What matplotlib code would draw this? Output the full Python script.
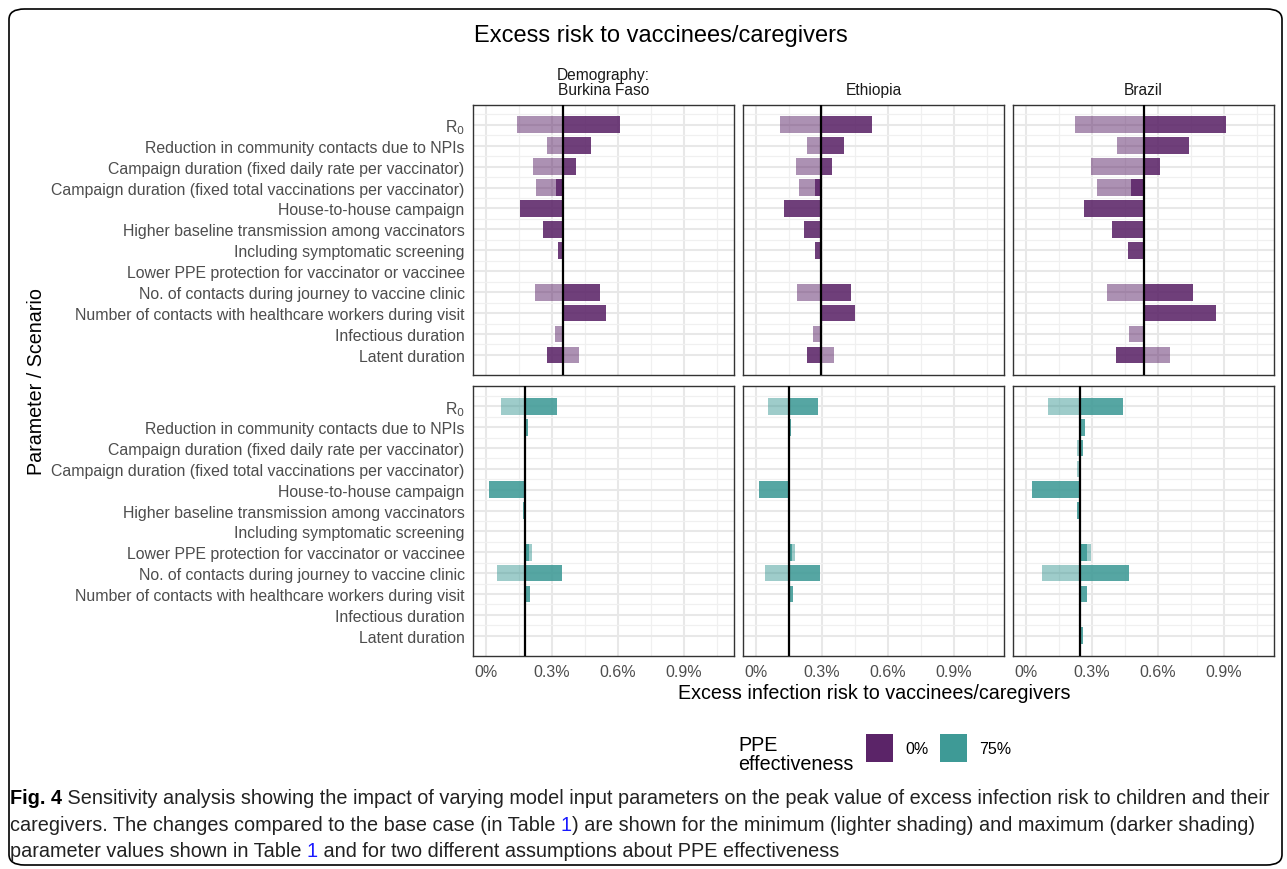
import matplotlib
matplotlib.use("Agg")
import matplotlib.pyplot as plt
from matplotlib.patches import FancyBboxPatch, Rectangle
import numpy as np

nan = np.nan

# %%
rows = ["R$_0$",
        "Reduction in community contacts due to NPIs",
        "Campaign duration (fixed daily rate per vaccinator)",
        "Campaign duration (fixed total vaccinations per vaccinator)",
        "House-to-house campaign",
        "Higher baseline transmission among vaccinators",
        "Including symptomatic screening",
        "Lower PPE protection for vaccinator or vaccinee",
        "No. of contacts during journey to vaccine clinic",
        "Number of contacts with healthcare workers during visit",
        "Infectious duration",
        "Latent duration"]
countries = ["Demography:\nBurkina Faso", "Ethiopia", "Brazil"]
ppe_labels = ["0%", "75%"]
xticks = [0, 0.3, 0.6, 0.9]
xticklabels = ["0%", "0.3%", "0.6%", "0.9%"]

# base case (percent), rows = PPE 0% / 75%, cols = country
base = [[0.353, 0.295, 0.539],
        [0.180, 0.153, 0.248]]

# minimum parameter value (lighter shading)
low_bf0 = [0.141, 0.280, 0.214, 0.229, nan, nan, nan, nan, 0.223, nan, 0.315, 0.423]
low_et0 = [0.111, 0.235, 0.182, 0.195, nan, nan, nan, nan, 0.188, nan, 0.262, 0.355]
low_br0 = [0.224, 0.414, 0.297, 0.326, nan, nan, nan, nan, 0.370, nan, 0.468, 0.656]
low_bf75 = [0.070, nan, 0.174, nan, nan, nan, nan, 0.209, 0.050, nan, nan, nan]
low_et75 = [0.058, nan, nan, nan, nan, nan, nan, 0.177, 0.042, nan, nan, nan]
low_br75 = [0.100, 0.242, 0.233, 0.235, nan, nan, 0.244, 0.297, 0.076, nan, nan, 0.242]

# maximum parameter value / scenario (darker shading)
high_bf0 = [0.611, 0.479, 0.408, 0.320, 0.155, 0.259, 0.327, nan, 0.517, 0.545, nan, 0.277]
high_et0 = [0.527, 0.403, 0.348, 0.271, 0.127, 0.218, 0.271, nan, 0.435, 0.453, nan, 0.233]
high_br0 = [0.909, 0.742, 0.611, 0.479, 0.264, 0.391, 0.464, nan, 0.759, 0.862, nan, 0.411]
high_bf75 = [0.323, 0.191, 0.184, 0.178, 0.015, 0.168, nan, 0.198, 0.345, 0.202, nan, nan]
high_et75 = [0.282, 0.162, 0.151, nan, 0.014, 0.145, nan, 0.165, 0.292, 0.170, nan, nan]
high_br75 = [0.442, 0.268, 0.259, nan, 0.027, 0.232, nan, 0.277, 0.467, 0.280, nan, 0.259]

lows = [[low_bf0, low_et0, low_br0], [low_bf75, low_et75, low_br75]]
highs = [[high_bf0, high_et0, high_br0], [high_bf75, high_et75, high_br75]]
colors = ["#5B2468", "#3E9A96"]

# %%
W, H = 1287, 870
fig = plt.figure(figsize=(W / 100, H / 100), dpi=100)
plt.rcParams['font.family'] = ['Liberation Sans', 'DejaVu Sans']

def px_axes(x0, y0, x1, y1):
    return fig.add_axes([x0 / W, 1 - y1 / H, (x1 - x0) / W, (y1 - y0) / H])

col_x = [473, 743, 1013]
panel_w = 261
row_y = [(105.7, 376.0), (387.3, 656.7)]
n = len(rows)
ypos = np.arange(n)[::-1]

for r in range(2):
    for c in range(3):
        ax = px_axes(col_x[c], row_y[r][0], col_x[c] + panel_w, row_y[r][1])
        ax.set_xlim(-0.057, 1.127)
        ax.set_ylim(-0.96, n - 1 + 0.96)
        # grid
        for v in [0.15, 0.45, 0.75, 1.05]:
            ax.axvline(v, color="#f0f0f0", lw=0.9, zorder=0)
        for v in xticks:
            ax.axvline(v, color="#e8e8e8", lw=1.5, zorder=0)
        for y in ypos:
            ax.axhline(y, color="#e8e8e8", lw=1.5, zorder=0)
            ax.axhline(y + 0.5, color="#f0f0f0", lw=0.9, zorder=0)
        b = base[r][c]
        lo = np.array(lows[r][c])
        hi = np.array(highs[r][c])
        m = ~np.isnan(lo)
        ax.barh(ypos[m], lo[m] - b, left=b, height=0.8, color=colors[r], alpha=0.5, lw=0, zorder=2)
        m = ~np.isnan(hi)
        ax.barh(ypos[m], hi[m] - b, left=b, height=0.8, color=colors[r], alpha=0.88, lw=0, zorder=3)
        ax.axvline(b, color="black", lw=1.6, zorder=4)
        for s in ax.spines.values():
            s.set_color("#333333")
            s.set_linewidth(1.0)
        ax.set_xticks(xticks)
        ax.set_yticks(ypos)
        ax.tick_params(length=0, colors="#4d4d4d", labelsize=11.5, pad=6)
        if r == 1:
            ax.set_xticklabels(xticklabels)
        else:
            ax.set_xticklabels([])
        if c == 0:
            ax.set_yticklabels(rows, fontsize=11.45, color="#4d4d4d")
        else:
            ax.set_yticklabels([])
        if r == 0:
            ax.set_title(countries[c], fontsize=11.2, color="#1a1a1a", pad=8, linespacing=1.0)

fig.text(474 / W, 1 - 36 / H, "Excess risk to vaccinees/caregivers", fontsize=17,
         ha="left", va="center", color="black")
fig.text(874 / W, 1 - 694 / H, "Excess infection risk to vaccinees/caregivers", fontsize=14.2,
         ha="center", va="center")
fig.text(37 / W, 1 - 382 / H, "Parameter / Scenario", fontsize=14.2, rotation=90,
         ha="center", va="center")

# legend
fig.text(738 / W, 1 - 755 / H, "PPE\neffectiveness", fontsize=14.2, ha="left", va="center",
         linespacing=1.05)
for i, (x0, lab) in enumerate([(866, "0%"), (940, "75%")]):
    fig.patches.append(Rectangle((x0 / W, 1 - 763 / H), 27 / W, 28 / H, transform=fig.transFigure,
                                 facecolor=colors[i], edgecolor="none"))
    fig.text((x0 + 39) / W, 1 - 750 / H, lab, fontsize=11.5, ha="left", va="center")

# caption
cap_font = ['Liberation Sans', 'DejaVu Sans']
renderer = fig.canvas.get_renderer()

def segments(x, y, parts):
    for txt, col, wt in parts:
        t = fig.text(x / W, 1 - y / H, txt, fontsize=14.3, ha="left", va="center", color=col,
                     weight=wt, family=cap_font)
        x += t.get_window_extent(renderer).width

segments(10, 799, [("Fig. 4", "black", "bold"),
                   (" Sensitivity analysis showing the impact of varying model input parameters on the peak value of excess infection risk to children and their", "#222222", "normal")])
segments(10, 826, [("caregivers. The changes compared to the base case (in Table ", "#222222", "normal"),
                   ("1", "#1a1aff", "normal"),
                   (") are shown for the minimum (lighter shading) and maximum (darker shading)", "#222222", "normal")])
segments(10, 852, [("parameter values shown in Table ", "#222222", "normal"),
                   ("1", "#1a1aff", "normal"),
                   (" and for two different assumptions about PPE effectiveness", "#222222", "normal")])

# outer frame
fig.patches.append(FancyBboxPatch((9 / W, 4 / H), 1273 / W, 856 / H, transform=fig.transFigure,
                                  boxstyle="round,pad=0,rounding_size=0.012", facecolor="none",
                                  edgecolor="black", lw=1.2))

fig.savefig("out.png", dpi=100)
